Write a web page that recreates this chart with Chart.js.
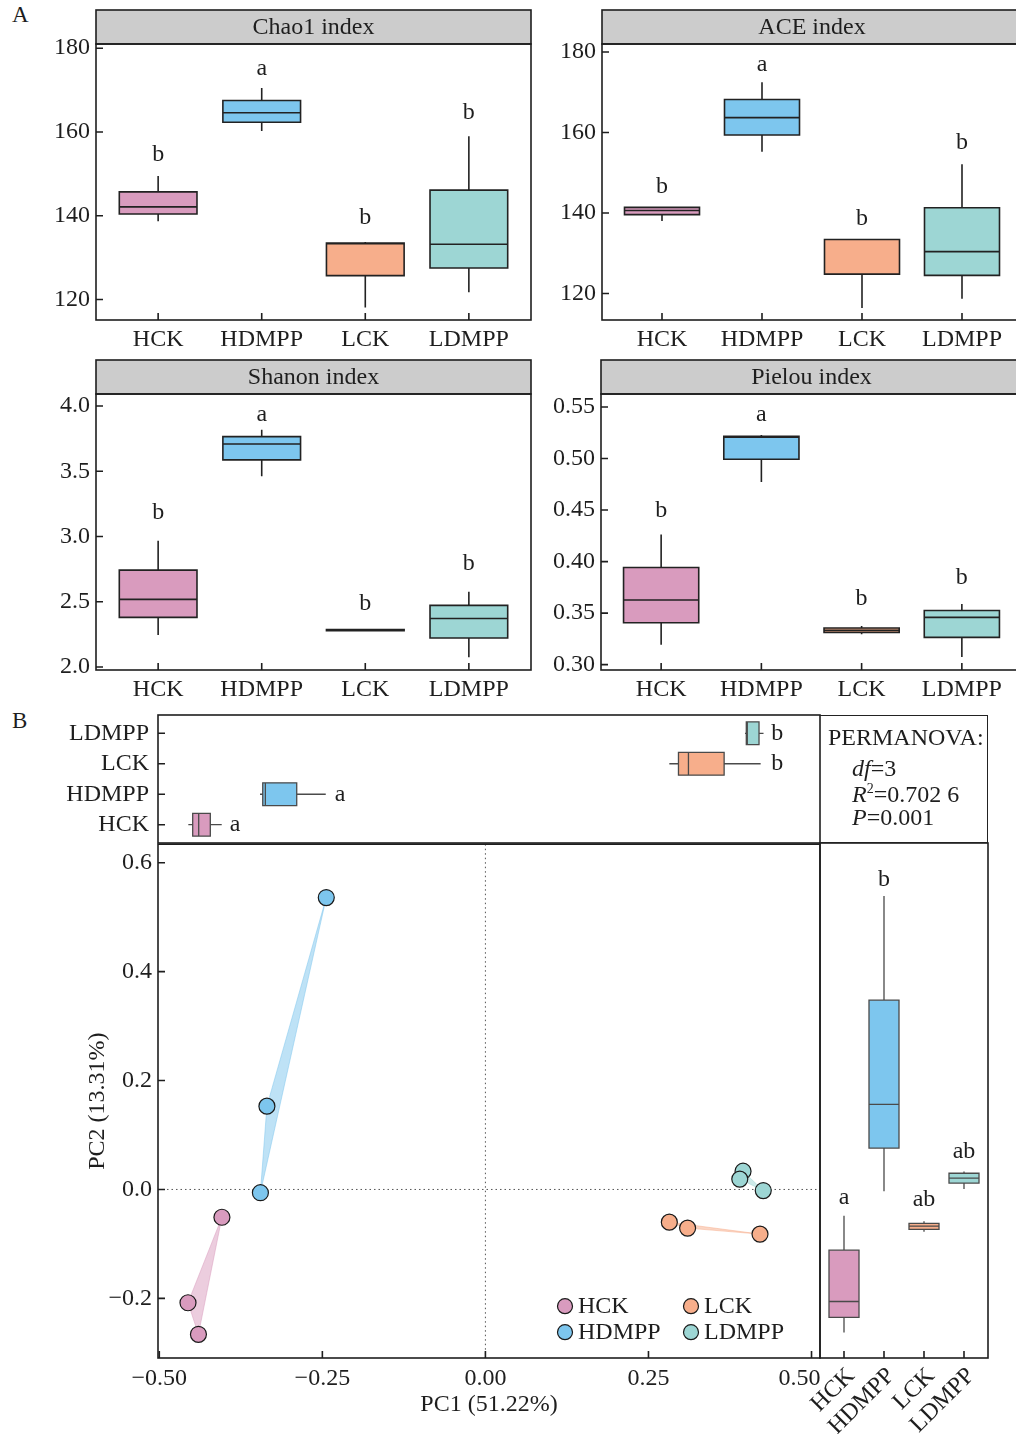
<!DOCTYPE html>
<html>
<head>
<meta charset="utf-8">
<script src="https://cdn.jsdelivr.net/npm/chart.js@4.4.0/dist/chart.umd.min.js"></script>
<style>
  html, body { margin: 0; padding: 0; background: #fff; width: 1016px; height: 1434px; overflow: hidden; }
  body { position: relative; font-family: "Liberation Serif", "Times New Roman", serif; color: #1e1e1e; }
  canvas { position: absolute; }
  .tag { position: absolute; font-size: 23px; line-height: 26px; }
  #permanova { position: absolute; left: 820px; top: 715px; width: 168px; height: 128px; box-sizing: border-box;
               border: 1.6px solid #222; border-left: none; font-size: 24px; line-height: 26px; }
  #permanova div { position: absolute; white-space: nowrap; }
  #permanova sup { font-size: 14px; vertical-align: 9px; line-height: 0; }
</style>
</head>
<body>
<div class="tag" style="left:12px;top:2px">A</div>
<div class="tag" style="left:12px;top:708px">B</div>

<canvas id="chao1" width="545" height="352" style="left:0;top:0"></canvas>
<canvas id="ace" width="520" height="352" style="left:520px;top:0"></canvas>
<canvas id="shannon" width="545" height="352" style="left:0;top:350px"></canvas>
<canvas id="pielou" width="520" height="352" style="left:520px;top:350px"></canvas>

<canvas id="pc1box" width="860" height="150" style="left:0;top:700px"></canvas>
<canvas id="pcoa" width="860" height="599" style="left:0;top:835px"></canvas>
<canvas id="pc2box" width="236" height="599" style="left:780px;top:835px"></canvas>

<div id="permanova">
  <div style="left:8px;top:8px">PERMANOVA:</div>
  <div style="left:32px;top:39px"><i>df</i>=3</div>
  <div style="left:32px;top:65px"><i>R</i><sup>2</sup>=0.702 6</div>
  <div style="left:32px;top:88px"><i>P</i>=0.001</div>
</div>

<script>
// alpha diversity + PCoA figure

const SERIF = '"Liberation Serif", "Times New Roman", serif';
const INK = '#1e1e1e';
Chart.defaults.font.family = SERIF;
Chart.defaults.font.size = 24;
Chart.defaults.color = INK;

const groups = ['HCK', 'HDMPP', 'LCK', 'LDMPP'];
const groupFill = ['#D99BBE', '#7DC6EE', '#F7AE8B', '#9DD6D4'];
const hullFill = ['rgba(217,155,190,0.5)', 'rgba(125,198,238,0.5)', 'rgba(247,174,139,0.5)', 'rgba(157,214,212,0.5)'];

// boxes: [lower whisker, Q1, median, Q3, upper whisker] for HCK, HDMPP, LCK, LDMPP
const chao1Box = [[138.7, 140.4, 142.1, 145.7, 149.5], [160.2, 162.3, 164.6, 167.5, 170.5],
                  [118.1, 125.7, 133.3, 133.5, 133.7], [121.7, 127.5, 133.2, 146.1, 159.0]];
const chao1Letters = ['b', 'a', 'b', 'b'];
const chao1LetterAt = [154.5, 175.2, 139.5, 164.5];
const chao1Ticks = [120, 140, 160, 180];
const chao1TickLabels = ['120', '140', '160', '180'];

const aceBox = [[138.0, 139.6, 140.6, 141.4, 141.4], [155.2, 159.4, 163.7, 168.2, 172.5],
                [116.4, 124.8, 133.4, 133.4, 133.4], [118.7, 124.5, 130.4, 141.3, 152.1]];
const aceLetters = ['b', 'a', 'b', 'b'];
const aceLetterAt = [146.5, 176.9, 138.6, 157.4];
const aceTicks = [120, 140, 160, 180];
const aceTickLabels = ['120', '140', '160', '180'];

const shannonBox = [[2.245, 2.380, 2.518, 2.742, 2.967], [3.462, 3.587, 3.709, 3.765, 3.819],
                    [2.279, 2.279, 2.283, 2.287, 2.287], [2.074, 2.222, 2.372, 2.472, 2.577]];
const shannonLetters = ['b', 'a', 'b', 'b'];
const shannonLetterAt = [3.184, 3.936, 2.487, 2.788];
const shannonTicks = [2.0, 2.5, 3.0, 3.5, 4.0];
const shannonTickLabels = ['2.0', '2.5', '3.0', '3.5', '4.0'];

const pielouBox = [[0.3194, 0.3407, 0.3627, 0.3943, 0.4263], [0.4773, 0.4993, 0.5206, 0.5216, 0.5229],
                   [0.3294, 0.3313, 0.3333, 0.3355, 0.3375], [0.3074, 0.3265, 0.3459, 0.3526, 0.3588]];
const pielouLetters = ['b', 'a', 'b', 'b'];
const pielouLetterAt = [0.4489, 0.5429, 0.3643, 0.3843];
const pielouTicks = [0.30, 0.35, 0.40, 0.45, 0.50, 0.55];
const pielouTickLabels = ['0.30', '0.35', '0.40', '0.45', '0.50', '0.55'];

// PCoA scores, three samples per group
const pc1Scores = [[-0.404, -0.456, -0.440], [-0.244, -0.335, -0.345], [0.282, 0.310, 0.421], [0.395, 0.390, 0.426]];
const pc2Scores = [[-0.051, -0.208, -0.266], [0.536, 0.153, -0.006], [-0.060, -0.071, -0.082], [0.0335, 0.019, -0.002]];

const pc1Box = [[-0.4555, -0.4488, -0.4396, -0.4218, -0.4043], [-0.3456, -0.3414, -0.3374, -0.2893, -0.2448],
                [0.282, 0.296, 0.3113, 0.366, 0.422], [0.398, 0.400, 0.4015, 0.4195, 0.4264]];
const pc1Letters = ['a', 'a', 'b', 'b'];
const pc1LetterAt = [-0.384, -0.223, 0.4475, 0.4475];

const pc2Box = [[-0.263, -0.235, -0.206, -0.112, -0.049], [-0.004, 0.075, 0.155, 0.346, 0.537],
                [-0.078, -0.074, -0.068, -0.063, -0.059], [0.0, 0.011, 0.020, 0.029, 0.032]];
const pc2Letters = ['a', 'b', 'ab', 'ab'];
const pc2LetterAt = [-0.016, 0.566, -0.02, 0.068];

const pc1Ticks = [-0.5, -0.25, 0, 0.25, 0.5];
// the last label sits a little left of its tick in the original, hence the trailing em space
const pc1TickLabels = ['\u22120.50', '\u22120.25', '0.00', '0.25', '0.50\u2003'];
const pc2Ticks = [-0.2, 0, 0.2, 0.4, 0.6];
const pc2TickLabels = ['\u22120.2', '0.0', '0.2', '0.4', '0.6'];
const pc1Range = [-0.502, 0.513];
const pc2Range = [-0.3095, 0.634];

// whiskers, outline and median of each box, plus the letters
function boxDecor(box, letters, letterAt, vertical, ink, lw) {
  return {
    id: 'boxDecor',
    afterDatasetsDraw(chart) {
      const ctx = chart.ctx;
      const cat = vertical ? chart.scales.x : chart.scales.y;
      const val = vertical ? chart.scales.y : chart.scales.x;
      const half = Math.abs(cat.getPixelForValue(1.375) - cat.getPixelForValue(1));
      ctx.save();
      ctx.strokeStyle = ink;
      ctx.lineWidth = lw;
      box.forEach((s, i) => {
        const c = cat.getPixelForValue(i + 1);
        const [lo, q1, med, q3, hi] = s.map(v => val.getPixelForValue(v));
        ctx.beginPath();
        if (vertical) {
          ctx.moveTo(c, lo); ctx.lineTo(c, q1);
          ctx.moveTo(c, q3); ctx.lineTo(c, hi);
          ctx.moveTo(c - half, med); ctx.lineTo(c + half, med);
          ctx.rect(c - half, q3, 2 * half, q1 - q3);
        } else {
          ctx.moveTo(lo, c); ctx.lineTo(q1, c);
          ctx.moveTo(q3, c); ctx.lineTo(hi, c);
          ctx.moveTo(med, c - half); ctx.lineTo(med, c + half);
          ctx.rect(q1, c - half, q3 - q1, 2 * half);
        }
        ctx.stroke();
      });
      ctx.fillStyle = INK;
      ctx.font = '24px ' + SERIF;
      ctx.textAlign = 'center';
      ctx.textBaseline = 'middle';
      letters.forEach((t, i) => {
        const c = cat.getPixelForValue(i + 1);
        const p = val.getPixelForValue(letterAt[i]);
        if (vertical) ctx.fillText(t, c, p); else ctx.fillText(t, p, c);
      });
      ctx.restore();
    }
  };
}

// panel border, inward ticks and the grey facet strip
function frame(opts) {
  return {
    id: 'frame',
    afterDraw(chart) {
      const { ctx, chartArea: a, scales } = chart;
      ctx.save();
      ctx.strokeStyle = INK;
      ctx.lineWidth = 1.6;
      if (opts.strip) {
        ctx.fillStyle = '#CCCCCC';
        ctx.fillRect(a.left, a.top - 34, a.right - a.left, 34);
        ctx.strokeRect(a.left, a.top - 34, a.right - a.left, 34);
        ctx.fillStyle = INK;
        ctx.font = '24px ' + SERIF;
        ctx.textAlign = 'center';
        ctx.textBaseline = 'middle';
        ctx.fillText(opts.strip, (a.left + a.right) / 2, a.top - 16);
      }
      ctx.strokeRect(a.left, a.top, a.right - a.left, a.bottom - a.top);
      ctx.beginPath();
      if (opts.xTicks) scales.x.ticks.forEach(t => {
        const p = scales.x.getPixelForValue(t.value);
        ctx.moveTo(p, a.bottom); ctx.lineTo(p, a.bottom - 7);
      });
      if (opts.yTicks) scales.y.ticks.forEach(t => {
        const p = scales.y.getPixelForValue(t.value);
        ctx.moveTo(a.left, p); ctx.lineTo(a.left + 7, p);
      });
      ctx.stroke();
      ctx.restore();
    }
  };
}

// fixed axis size, no extra label padding pushed into the layout
function fixSize(w, h) {
  return s => {
    if (w !== null) s.width = w;
    if (h !== null) s.height = h;
    s.paddingTop = 0; s.paddingBottom = 0; s.paddingLeft = 0; s.paddingRight = 0;
  };
}

const noGrid = { display: false, drawTicks: false };
const base = { responsive: false, animation: false, events: [],
               plugins: { legend: { display: false }, tooltip: { enabled: false } } };

function groupAxis(extra) {
  return Object.assign({
    type: 'linear', min: 0.4, max: 4.6, offset: false, grid: noGrid, border: { display: false },
    afterBuildTicks: s => { s.ticks = groups.map((g, i) => ({ value: i + 1 })); },
    ticks: { callback: (v, i) => groups[i], autoSkip: false, maxRotation: 0, padding: 5 }
  }, extra);
}

function valueAxis(range, ticks, labels, extra) {
  return Object.assign({
    type: 'linear', min: range[0], max: range[1], grid: noGrid, border: { display: false },
    afterBuildTicks: s => { s.ticks = ticks.map(v => ({ value: v })); },
    ticks: { callback: (v, i) => labels[i], padding: 6 }
  }, extra);
}

function alphaPanel(id, title, box, letters, letterAt, range, ticks, labels, axisWidth, padRight) {
  new Chart(document.getElementById(id), {
    type: 'bar',
    data: { datasets: [{
      data: box.map((s, i) => ({ x: i + 1, y: [s[1], s[3]] })),
      backgroundColor: groupFill, borderWidth: 0, barPercentage: 0.75, categoryPercentage: 1
    }] },
    options: Object.assign({}, base, {
      layout: { padding: { top: 44, right: padRight, left: 0, bottom: 0 } },
      scales: {
        x: groupAxis({ afterFit: fixSize(null, 32) }),
        y: valueAxis(range, ticks, labels, { afterFit: fixSize(axisWidth, null) })
      }
    }),
    plugins: [boxDecor(box, letters, letterAt, true, '#222', 1.6), frame({ strip: title, xTicks: true, yTicks: true })]
  });
}

alphaPanel('chao1', 'Chao1 index', chao1Box, chao1Letters, chao1LetterAt, [115.1, 181], chao1Ticks, chao1TickLabels, 96, 14);
alphaPanel('ace', 'ACE index', aceBox, aceLetters, aceLetterAt, [113.4, 182], aceTicks, aceTickLabels, 82, 18);
alphaPanel('shannon', 'Shanon index', shannonBox, shannonLetters, shannonLetterAt, [1.977, 4.092], shannonTicks, shannonTickLabels, 96, 14);
alphaPanel('pielou', 'Pielou index', pielouBox, pielouLetters, pielouLetterAt, [0.2948, 0.5626], pielouTicks, pielouTickLabels, 81, 18);

// PC1 boxes above the ordination
new Chart(document.getElementById('pc1box'), {
  type: 'bar',
  data: { datasets: [{
    data: pc1Box.map((s, i) => ({ y: i + 1, x: [s[1], s[3]] })),
    backgroundColor: groupFill, borderWidth: 0, barPercentage: 0.75, categoryPercentage: 1
  }] },
  options: Object.assign({}, base, {
    indexAxis: 'y',
    layout: { padding: { top: 15, right: 40, left: 0, bottom: 7 } },
    scales: {
      x: { type: 'linear', min: pc1Range[0], max: pc1Range[1], display: false },
      y: groupAxis({ ticks: { callback: (v, i) => groups[i], autoSkip: false, padding: 9 },
                     afterFit: fixSize(158, null) })
    }
  }),
  plugins: [boxDecor(pc1Box, pc1Letters, pc1LetterAt, false, '#4a4a4a', 1.3), frame({ yTicks: true })]
});

// PCoA scatter with group hulls
const pcoaSets = [];
groups.forEach((g, i) => {
  pcoaSets.push({
    type: 'scatter', label: g, order: 1,
    data: pc1Scores[i].map((x, k) => ({ x: x, y: pc2Scores[i][k] })),
    pointRadius: 8, pointBackgroundColor: groupFill[i], pointBorderColor: '#1a1a1a', pointBorderWidth: 1.2
  });
});
groups.forEach((g, i) => {
  const pts = pc1Scores[i].map((x, k) => ({ x: x, y: pc2Scores[i][k] }));
  pcoaSets.push({
    type: 'line', label: g + ' hull', order: 2, data: pts.concat([pts[0]]),
    fill: 'shape', backgroundColor: hullFill[i], borderColor: hullFill[i], borderWidth: 1,
    pointRadius: 0, tension: 0
  });
});

const zeroLines = {
  id: 'zeroLines',
  beforeDatasetsDraw(chart) {
    const { ctx, chartArea: a, scales: { x, y } } = chart;
    const x0 = x.getPixelForValue(0), y0 = y.getPixelForValue(0);
    ctx.save();
    ctx.strokeStyle = '#555';
    ctx.lineWidth = 1;
    ctx.setLineDash([1.5, 3]);
    ctx.beginPath();
    ctx.moveTo(x0, a.top); ctx.lineTo(x0, a.bottom);
    ctx.moveTo(a.left, y0); ctx.lineTo(a.right, y0);
    ctx.stroke();
    ctx.restore();
  }
};

const pcoaLegend = {
  id: 'pcoaLegend',
  afterDraw(chart) {
    const { ctx, chartArea: a } = chart;
    const cols = [a.left + 407, a.left + 533];
    const rows = [a.top + 462, a.top + 488];
    const slots = [[0, 0], [0, 1], [1, 0], [1, 1]];
    ctx.save();
    ctx.font = '24px ' + SERIF;
    ctx.textBaseline = 'middle';
    ctx.textAlign = 'left';
    groups.forEach((g, i) => {
      const cx = cols[slots[i][0]], cy = rows[slots[i][1]];
      ctx.beginPath();
      ctx.arc(cx, cy, 7.5, 0, Math.PI * 2);
      ctx.fillStyle = groupFill[i];
      ctx.fill();
      ctx.strokeStyle = '#1a1a1a';
      ctx.lineWidth = 1.2;
      ctx.stroke();
      ctx.fillStyle = INK;
      ctx.fillText(g, cx + 13, cy + 1);
    });
    ctx.restore();
  }
};

new Chart(document.getElementById('pcoa'), {
  type: 'scatter',
  data: { datasets: pcoaSets },
  options: Object.assign({}, base, {
    layout: { padding: { top: 8, right: 40, left: 0, bottom: 0 } },
    scales: {
      x: valueAxis(pc1Range, pc1Ticks, pc1TickLabels, {
        title: { display: true, text: 'PC1 (51.22%)', font: { size: 24, lineHeight: 1.2 }, padding: { top: 0, bottom: 15 } },
        afterFit: fixSize(null, 76)
      }),
      y: valueAxis(pc2Range, pc2Ticks, pc2TickLabels, {
        title: { display: true, text: 'PC2 (13.31%)', font: { size: 24, lineHeight: 1.2 }, padding: { top: 83, bottom: 0 } },
        afterFit: fixSize(158, null)
      })
    }
  }),
  plugins: [zeroLines, frame({ xTicks: true, yTicks: true }), pcoaLegend]
});

// PC2 boxes to the right of the ordination
new Chart(document.getElementById('pc2box'), {
  type: 'bar',
  data: { datasets: [{
    data: pc2Box.map((s, i) => ({ x: i + 1, y: [s[1], s[3]] })),
    backgroundColor: groupFill, borderWidth: 0, barPercentage: 0.75, categoryPercentage: 1
  }] },
  options: Object.assign({}, base, {
    layout: { padding: { top: 8, right: 28, left: 40, bottom: 0 } },
    scales: {
      x: groupAxis({ ticks: { callback: (v, i) => groups[i], autoSkip: false, minRotation: 45, maxRotation: 45,
                              padding: 4, labelOffset: 7 },
                     afterFit: fixSize(null, 76) }),
      y: { type: 'linear', min: pc2Range[0], max: pc2Range[1], display: false }
    }
  }),
  plugins: [boxDecor(pc2Box, pc2Letters, pc2LetterAt, true, '#4a4a4a', 1.3), frame({ xTicks: true })]
});
</script>
</body>
</html>
